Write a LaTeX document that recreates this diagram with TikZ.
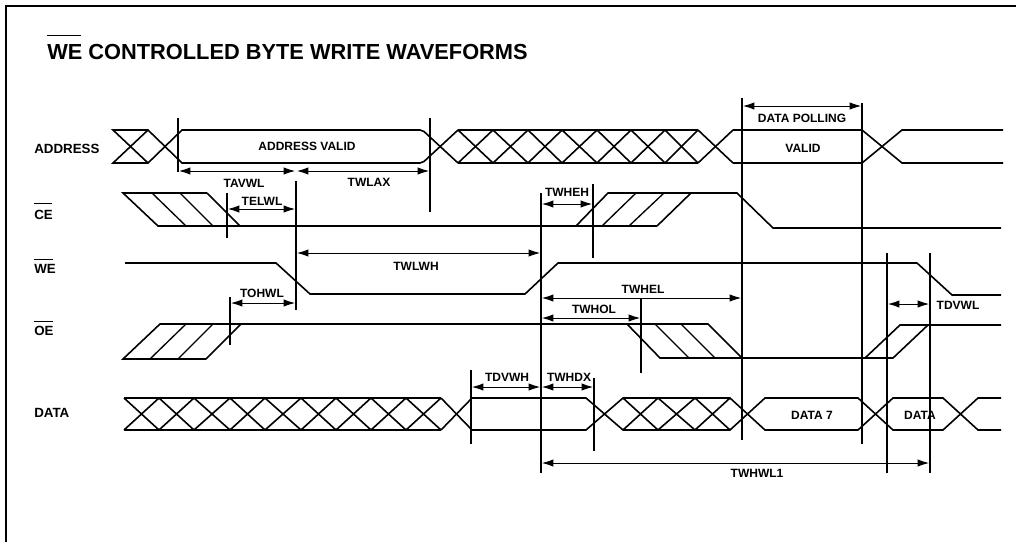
\documentclass[tikz,border=0pt]{standalone}
\usepackage{fontspec}
\setmainfont{Liberation Sans}
\usetikzlibrary{arrows.meta}
\newcommand{\ovl}[2]{\draw[thin line] (#1) -- (#2);}
\tikzset{
  x=0.75pt,y=-0.75pt,
  sig/.style={line width=1.2pt,line join=miter,line cap=butt},
  hatch/.style={line width=1pt},
  tick/.style={line width=1.3pt},
  thin line/.style={line width=0.7pt},
  dim/.style={line width=0.6pt,{Latex[length=8.5pt,width=5.5pt]}-{Latex[length=8.5pt,width=5.5pt]}},
  lbl/.style={font=\bfseries\fontsize{9}{10}\selectfont,inner sep=0pt,text=black},
  side/.style={font=\bfseries\fontsize{10}{11}\selectfont,inner sep=0pt,anchor=base west},
}
\begin{document}
\begin{tikzpicture}
\useasboundingbox (0,0) rectangle (1016,542);
\fill[white] (0,0) rectangle (1016,542);
% frame
\draw[line width=0.9pt] (6,542) -- (6,6) -- (1016,6);
% title
\node[inner sep=0pt,anchor=base west,font=\bfseries\fontsize{16.35}{17}\selectfont] (title) at (47,60) {WE CONTROLLED BYTE WRITE WAVEFORMS};
\ovl{47,35}{81,35}
% side labels
\node[side] (laddr) at (34,153) {ADDRESS};
\node[side] (lce) at (34,219) {CE};
\ovl{34,203}{52,203}
\node[side] (lwe) at (34,273) {WE};
\ovl{34,259}{53,259}
\node[side] (loe) at (34,335) {OE};
\ovl{34,321}{53,321}
\node[side] (ldata) at (34,417) {DATA};

% ADDRESS
\draw[sig] (148,130) -- (113,130) -- (148,163) -- (182,130) to[out=0,in=180] (185,130) -- (420,130) to[out=0,in=135] (424,131.5) -- (458,163);
\draw[sig] (148,163) -- (113,163) -- (148,130) -- (182,163) to[out=0,in=180] (185,163) -- (420,163) to[out=0,in=225] (424,161.5) -- (458,130);
\foreach \a/\b in {458/493,493/528,528/562,562/597,597/631,631/665,665/698,698/733}{
  \draw[sig] (\a,130) -- (\b,163); \draw[sig] (\a,163) -- (\b,130);
}
\draw[sig] (458,130) -- (698,130) (458,163) -- (698,163);
\draw[sig] (733,130) -- (862,130) -- (902,163) -- (1003,163);
\draw[sig] (733,163) -- (862,163) -- (902,130) -- (1003,130);

% CE
\draw[sig] (207,193) -- (123,193) -- (158,226) -- (657,226);
\draw[hatch] (152,193) -- (186,226) (180,193) -- (213,226);
\draw[sig] (207,193) -- (240,226);
\draw[sig] (576,226) -- (608,193) -- (737,193) -- (773,228) -- (1001,228);
\draw[hatch] (602,226) -- (636,193) (629,226) -- (664,193);
\draw[sig] (657,226) -- (691,193);

% WE
\draw[sig] (125,263) -- (276,263) -- (310,294) -- (525,294) -- (558,263) -- (917,263) -- (952,295) -- (1001,295);

% OE
\draw[sig] (206,359) -- (123,359) -- (160,324) -- (708,324) -- (742,358);
\draw[hatch] (150,359) -- (186,324) (178,359) -- (213,324);
\draw[sig] (206,359) -- (241,324);
\draw[sig] (627,324) -- (660,358) -- (893,358) -- (928,325);
\draw[hatch] (655,324) -- (689,358) (681,324) -- (715,358);
\draw[sig] (865,358) -- (900,325) -- (1001,325);

% DATA
\draw[sig] (124,398) -- (441,398) (124,430) -- (441,430);
\foreach \a/\b in {124/159,159/194,194/230,230/265,265/301,301/336,336/371,371/406,406/441}{
  \draw[sig] (\a,398) -- (\b,430); \draw[sig] (\a,430) -- (\b,398);
}
\draw[sig] (441,398) -- (472,430) to[out=0,in=180] (475,430) -- (586,430) -- (623,398) -- (730,398) -- (765,430) -- (858,430) -- (893,398) -- (943,398) -- (978,430) -- (1001,430);
\draw[sig] (441,430) -- (472,398) to[out=0,in=180] (475,398) -- (586,398) -- (623,430) -- (730,430) -- (765,398) -- (858,398) -- (893,430) -- (943,430) -- (978,398) -- (1001,398);
\foreach \a/\b in {623/658,658/695,695/730}{
  \draw[sig] (\a,398) -- (\b,430); \draw[sig] (\a,430) -- (\b,398);
}

% ticks
\foreach \x/\t/\u in {178/118/172,296/181/310,430/118/212,541/193/473,593/184/258,862/103/444,930/253/473,641/298/373,230/297/345,227/193/238,471/370/444,594/378/451}{
  \draw[tick] (\x,\t) -- (\x,\u);
}
\draw[line width=1.6pt] (742,98) -- (742,440) (887,253) -- (887,473);

% timing arrows
\draw[dim] (179,171) -- (295,171);
\draw[dim] (297,171) -- (429,171);
\draw[dim] (228,209) -- (295,209);
\draw[dim] (297,253) -- (540,253);
\draw[dim] (542,204) -- (592,204);
\draw[dim] (743,106) -- (861,106);
\draw[dim] (231,303) -- (295,303);
\draw[dim] (542,298) -- (741,298);
\draw[dim] (542,318) -- (640,318);
\draw[dim] (472,387) -- (540,387);
\draw[dim] (542,387) -- (593,387);
\draw[dim] (542,463) -- (929,463);
\draw[dim] (888,304) -- (929,304);

% signal and timing labels
\node[lbl] (aval) at (307,146) {ADDRESS VALID};
\node[lbl] (valid) at (803,148) {VALID};
\node[lbl] (dpoll) at (802,118) {DATA POLLING};
\node[lbl] (d7) at (812,415) {DATA 7};
\node[lbl] (dd) at (920,415) {DATA};
\node[lbl] (tavwl) at (244,183) {TAVWL};
\node[lbl] (telwl) at (262,201) {TELWL};
\node[lbl] (twlax) at (369,182) {TWLAX};
\node[lbl] (twlwh) at (416,266) {TWLWH};
\node[lbl] (twheh) at (567,192) {TWHEH};
\node[lbl] (tohwl) at (262,293) {TOHWL};
\node[lbl] (twhel) at (643,289) {TWHEL};
\node[lbl] (twhol) at (594,309) {TWHOL};
\node[lbl] (tdvwh) at (507,377) {TDVWH};
\node[lbl] (twhdx) at (569,377) {TWHDX};
\node[lbl] (twhwl) at (757,473) {TWHWL1};
\node[lbl] (tdvwl) at (958,305) {TDVWL};
\end{tikzpicture}
\end{document}
